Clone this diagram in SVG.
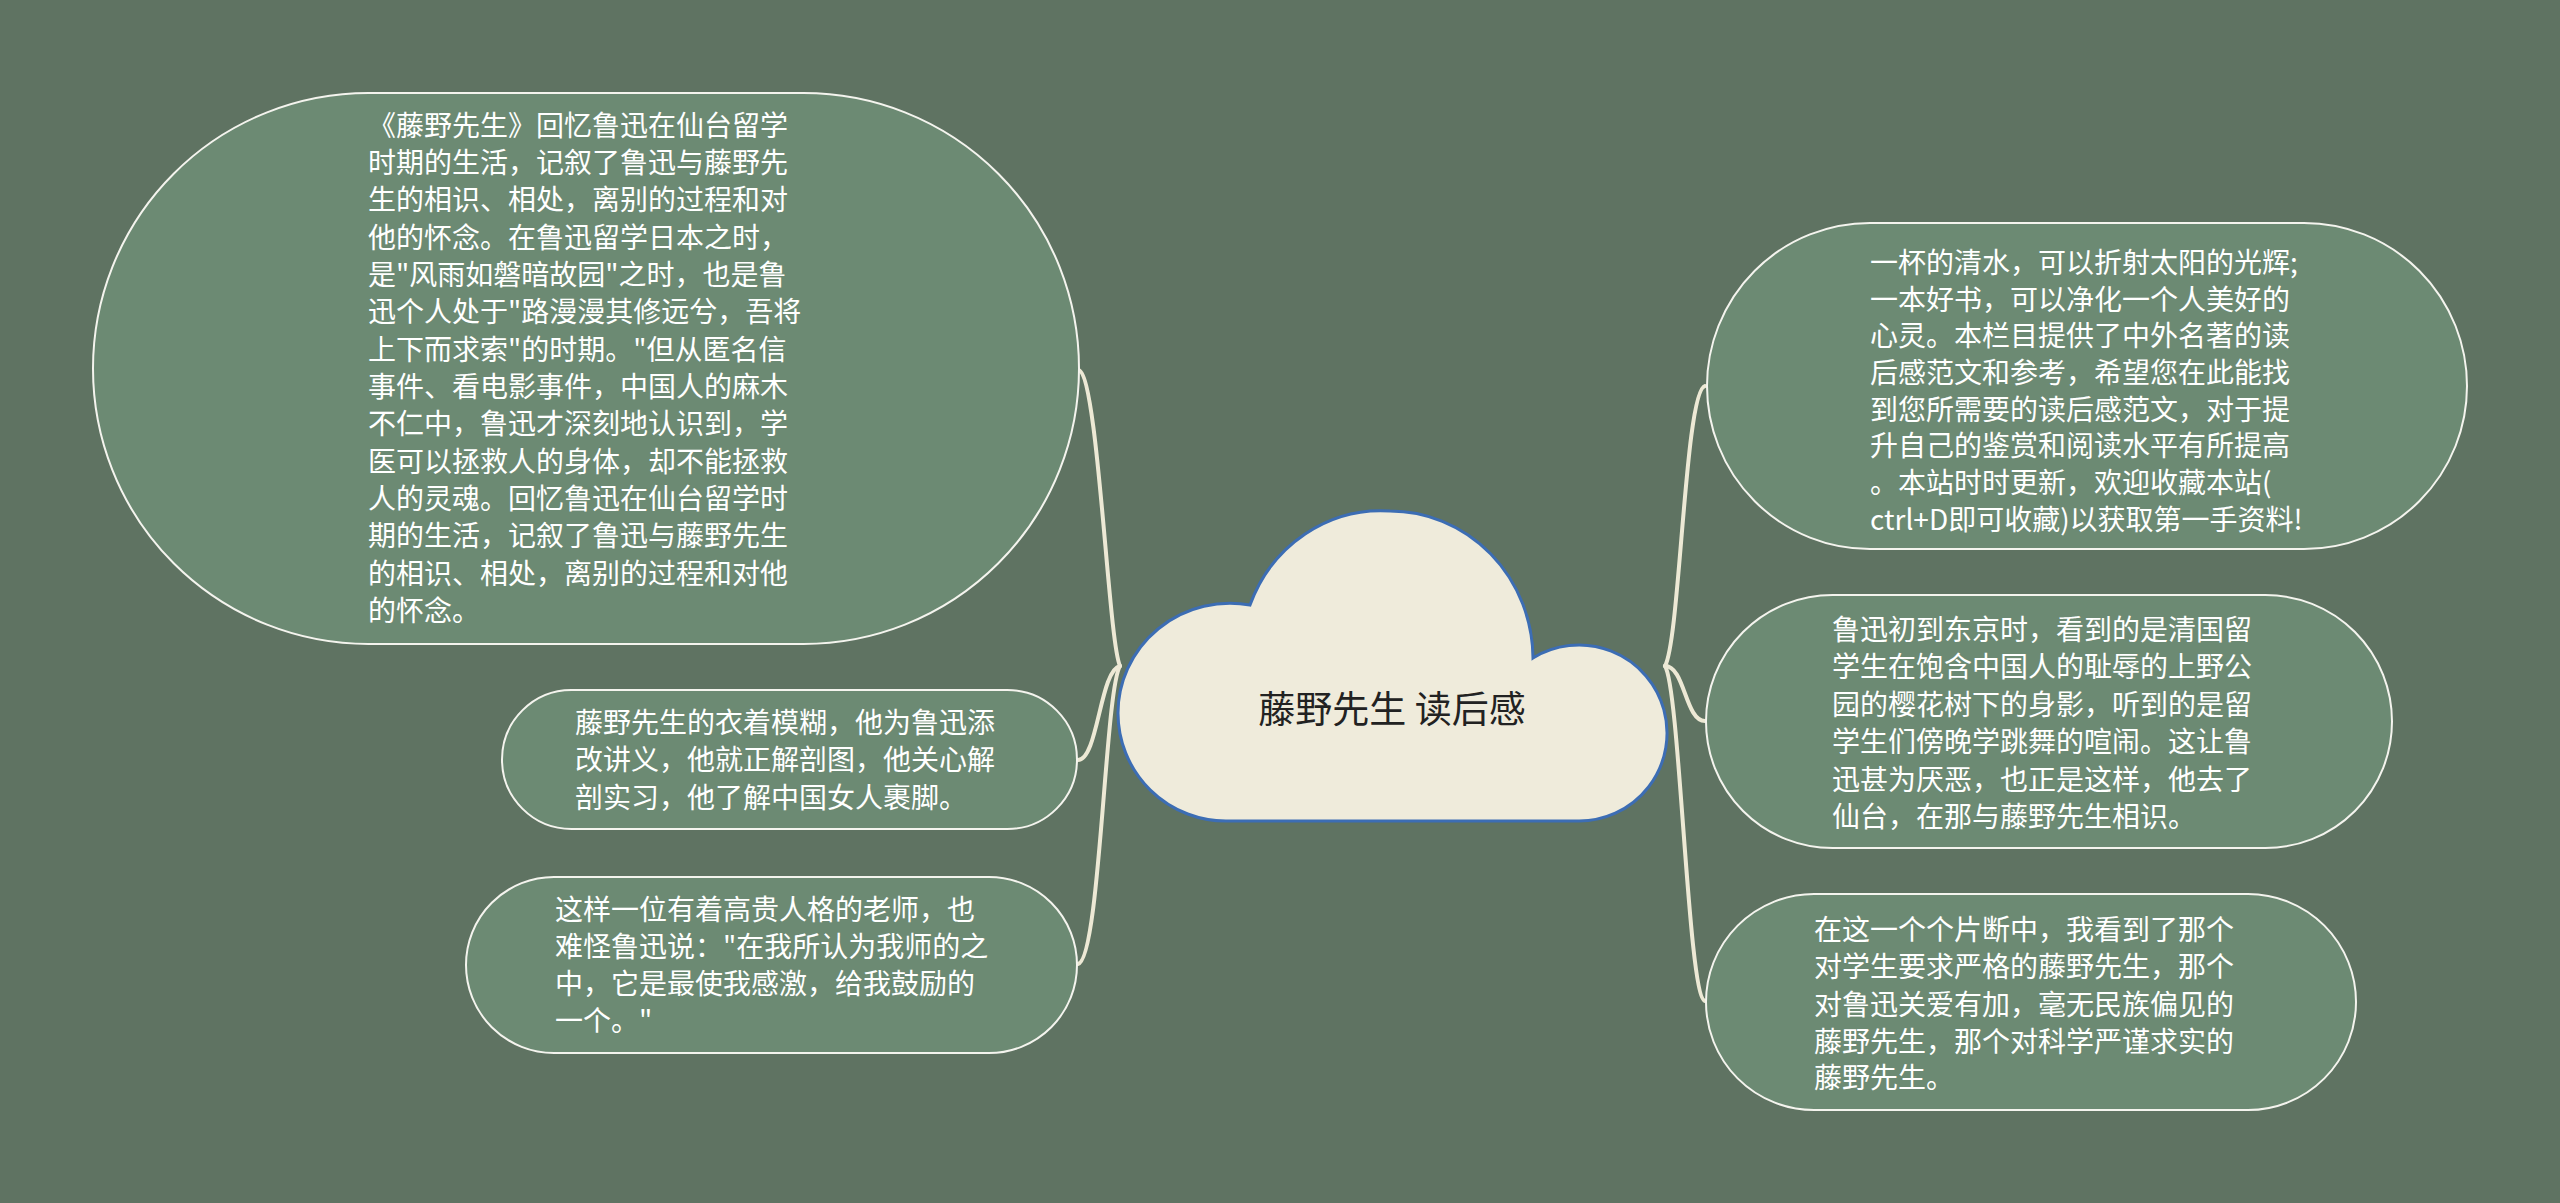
<svg xmlns="http://www.w3.org/2000/svg" width="2560" height="1203" viewBox="0 0 2560 1203">
<style>
.node{fill:#6C8A73;stroke:#F4F4EE;stroke-width:2}
.t{font-family:"Noto Sans CJK SC","Noto Sans",sans-serif;font-size:28px;fill:#FFFFFF}
.conn{fill:none;stroke:#EDE9D5;stroke-width:4;stroke-linecap:round}
.title{font-family:"Noto Sans CJK SC","Noto Sans",sans-serif;font-size:37px;fill:#222222}
</style>
<rect x="0" y="0" width="2560" height="1203" fill="#5F7362"/>
<g id="connectors">
<path class="conn" d="M1078,370 C1098,370 1108,640 1120,666"/>
<path class="conn" d="M1120,666 C1100,670 1098,760 1078,760"/>
<path class="conn" d="M1120,666 C1105,690 1100,960 1078,964"/>
<path class="conn" d="M1665,666 C1680,640 1685,390 1705,386"/>
<path class="conn" d="M1665,666 C1685,666 1685,721 1705,721"/>
<path class="conn" d="M1665,666 C1680,690 1688,998 1705,1001"/>
</g>
<g id="center">
<path d="M1228,821 A108,108 0 0 1 1118,713 A112,110 0 0 1 1250,605 A140,146 0 0 1 1390,511 A143,148 0 0 1 1533,658 A88,88 0 1 1 1578,821 Z" fill="#EFEBDB" stroke="#3C6DB4" stroke-width="3"/>
<text class="title" x="1392" y="723" text-anchor="middle">藤野先生 读后感</text>
</g>
<g id="node-l1">
<rect class="node" x="93" y="93" width="986" height="551" rx="275.5" ry="275.5"/>
<text class="t" x="368" y="136">《藤野先生》回忆鲁迅在仙台留学</text>
<text class="t" x="368" y="173">时期的生活，记叙了鲁迅与藤野先</text>
<text class="t" x="368" y="210">生的相识、相处，离别的过程和对</text>
<text class="t" x="368" y="248">他的怀念。在鲁迅留学日本之时，</text>
<text class="t" x="368" y="285">是"风雨如磐暗故园"之时，也是鲁</text>
<text class="t" x="368" y="322">迅个人处于"路漫漫其修远兮，吾将</text>
<text class="t" x="368" y="360">上下而求索"的时期。"但从匿名信</text>
<text class="t" x="368" y="397">事件、看电影事件，中国人的麻木</text>
<text class="t" x="368" y="434">不仁中，鲁迅才深刻地认识到，学</text>
<text class="t" x="368" y="472">医可以拯救人的身体，却不能拯救</text>
<text class="t" x="368" y="509">人的灵魂。回忆鲁迅在仙台留学时</text>
<text class="t" x="368" y="546">期的生活，记叙了鲁迅与藤野先生</text>
<text class="t" x="368" y="584">的相识、相处，离别的过程和对他</text>
<text class="t" x="368" y="621">的怀念。</text>
</g>
<g id="node-l2">
<rect class="node" x="502" y="690" width="575" height="139" rx="69.5" ry="69.5"/>
<text class="t" x="575" y="733">藤野先生的衣着模糊，他为鲁迅添</text>
<text class="t" x="575" y="770">改讲义，他就正解剖图，他关心解</text>
<text class="t" x="575" y="808">剖实习，他了解中国女人裹脚。</text>
</g>
<g id="node-l3">
<rect class="node" x="466" y="877" width="611" height="176" rx="88" ry="88"/>
<text class="t" x="555" y="920">这样一位有着高贵人格的老师，也</text>
<text class="t" x="555" y="957">难怪鲁迅说："在我所认为我师的之</text>
<text class="t" x="555" y="994">中，它是最使我感激，给我鼓励的</text>
<text class="t" x="555" y="1031">一个。"</text>
</g>
<g id="node-r1">
<rect class="node" x="1707" y="223" width="760" height="326" rx="163" ry="163"/>
<text class="t" x="1870" y="273">一杯的清水，可以折射太阳的光辉;</text>
<text class="t" x="1870" y="310">一本好书，可以净化一个人美好的</text>
<text class="t" x="1870" y="346">心灵。本栏目提供了中外名著的读</text>
<text class="t" x="1870" y="383">后感范文和参考，希望您在此能找</text>
<text class="t" x="1870" y="420">到您所需要的读后感范文，对于提</text>
<text class="t" x="1870" y="456">升自己的鉴赏和阅读水平有所提高</text>
<text class="t" x="1870" y="493">。本站时时更新，欢迎收藏本站(</text>
<text class="t" x="1870" y="530">ctrl+D即可收藏)以获取第一手资料!</text>
</g>
<g id="node-r2">
<rect class="node" x="1706" y="595" width="686" height="253" rx="126.5" ry="126.5"/>
<text class="t" x="1832" y="640">鲁迅初到东京时，看到的是清国留</text>
<text class="t" x="1832" y="677">学生在饱含中国人的耻辱的上野公</text>
<text class="t" x="1832" y="715">园的樱花树下的身影，听到的是留</text>
<text class="t" x="1832" y="752">学生们傍晚学跳舞的喧闹。这让鲁</text>
<text class="t" x="1832" y="790">迅甚为厌恶，也正是这样，他去了</text>
<text class="t" x="1832" y="827">仙台，在那与藤野先生相识。</text>
</g>
<g id="node-r3">
<rect class="node" x="1706" y="894" width="650" height="216" rx="108" ry="108"/>
<text class="t" x="1814" y="940">在这一个个片断中，我看到了那个</text>
<text class="t" x="1814" y="977">对学生要求严格的藤野先生，那个</text>
<text class="t" x="1814" y="1015">对鲁迅关爱有加，毫无民族偏见的</text>
<text class="t" x="1814" y="1052">藤野先生，那个对科学严谨求实的</text>
<text class="t" x="1814" y="1088">藤野先生。</text>
</g>
</svg>
